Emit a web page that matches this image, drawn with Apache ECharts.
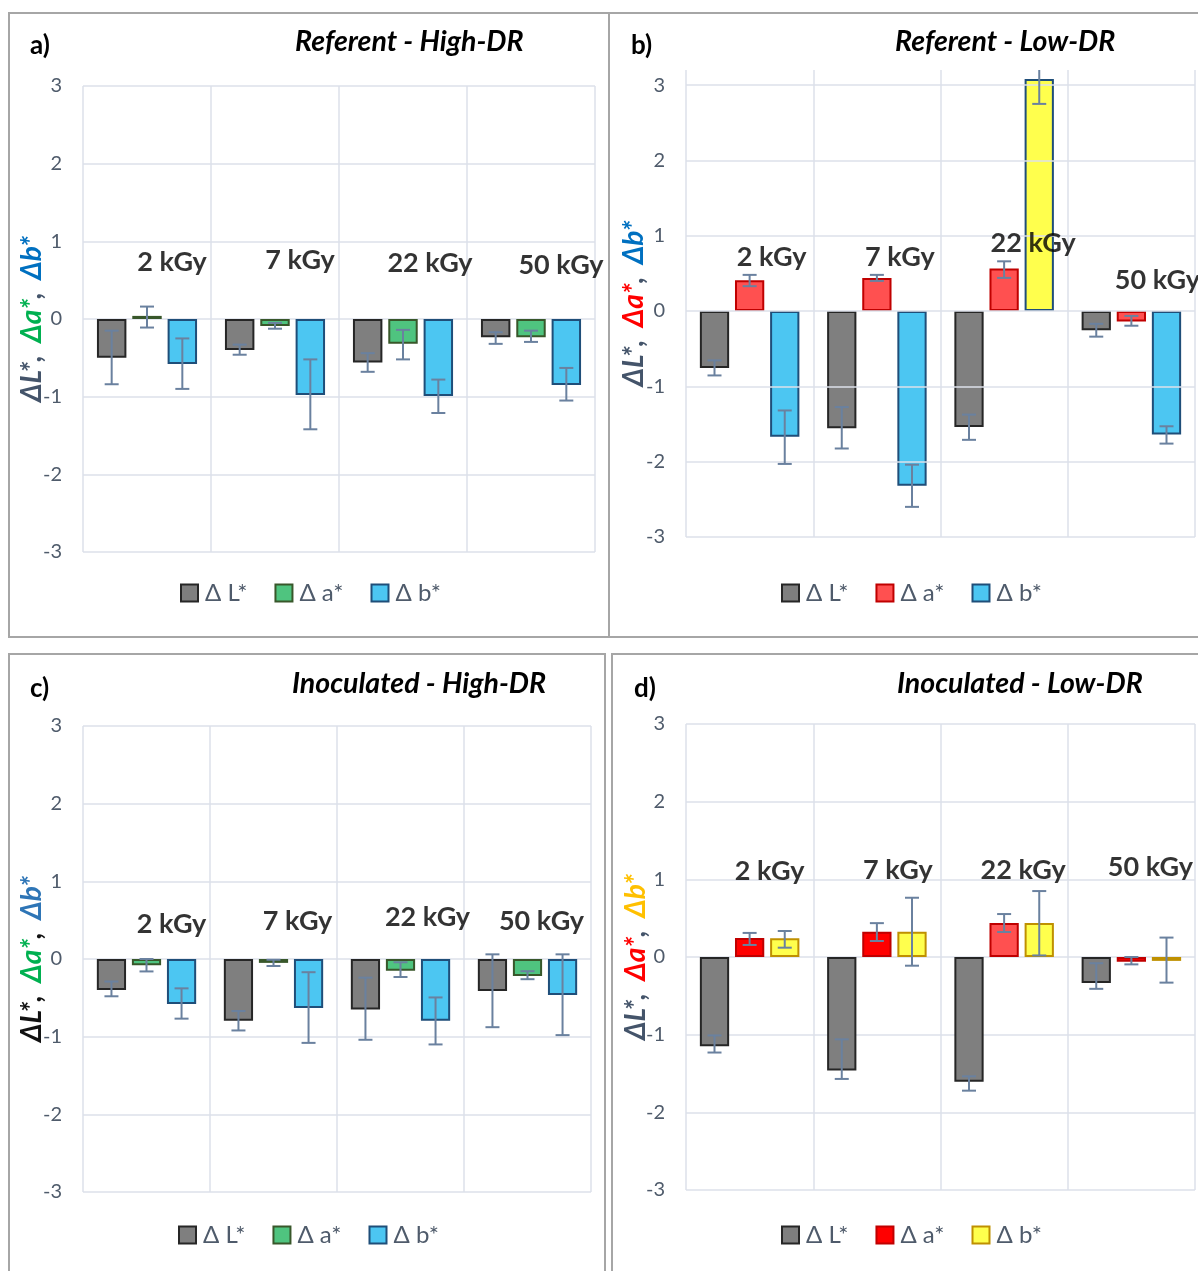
<!DOCTYPE html>
<html><head><meta charset="utf-8">
<script src="https://cdn.jsdelivr.net/npm/echarts@6/dist/echarts.min.js"></script>
<style>
html,body{margin:0;padding:0;width:1198px;height:1271px;overflow:hidden;background:#fff;}
.panel{position:absolute;box-sizing:border-box;border:2px solid #a6a6a6;}
.chart{position:absolute;left:0;top:0;width:100%;height:100%;}
</style></head><body>
<div class="panel" style="left:8px;top:12px;width:602px;height:626px"><div id="pa" class="chart"></div></div>
<div class="panel" style="left:608px;top:12px;width:600px;height:626px"><div id="pb" class="chart"></div></div>
<div class="panel" style="left:8px;top:653px;width:598px;height:640px"><div id="pc" class="chart"></div></div>
<div class="panel" style="left:611px;top:653px;width:600px;height:640px"><div id="pd" class="chart"></div></div>
<script>
// ---------- data ----------
const categories = ['2 kGy', '7 kGy', '22 kGy', '50 kGy'];
const seriesNames = ['Δ L*', 'Δ a*', 'Δ b*'];
const yTicks = [-3, -2, -1, 0, 1, 2, 3];

// error bars given as [minus, plus]
// a) Referent - High-DR
const aL = [-0.50, -0.40, -0.56, -0.235];
const aLerr = [[0.34, 0.35], [0.06, 0.07], [0.12, 0.12], [0.085, 0.065]];
const aA = [0.04, -0.09, -0.32, -0.235];
const aAerr = [[0.15, 0.12], [0.035, 0.04], [0.20, 0.18], [0.06, 0.085]];
const aB = [-0.58, -0.98, -0.99, -0.85];
const aBerr = [[0.32, 0.33], [0.44, 0.46], [0.22, 0.21], [0.20, 0.22]];

// b) Referent - Low-DR
const bL = [-0.755, -1.555, -1.54, -0.255];
const bLerr = [[0.10, 0.10], [0.27, 0.28], [0.17, 0.165], [0.085, 0.085]];
const bA = [0.41, 0.44, 0.565, -0.14];
const bAerr = [[0.08, 0.07], [0.04, 0.04], [0.125, 0.095], [0.055, 0.075]];
const bB = [-1.67, -2.32, 3.08, -1.64];
const bBerr = [[0.36, 0.35], [0.28, 0.28], [0.33, 0.33], [0.12, 0.11]];

// c) Inoculated - High-DR
const cL = [-0.40, -0.795, -0.65, -0.413];
const cLerr = [[0.08, 0.11], [0.125, 0.125], [0.39, 0.41], [0.465, 0.473]];
const cA = [-0.08, -0.05, -0.152, -0.22];
const cAerr = [[0.08, 0.08], [0.04, 0.04], [0.08, 0.11], [0.04, 0.063]];
const cB = [-0.578, -0.63, -0.795, -0.465];
const cBerr = [[0.19, 0.20], [0.45, 0.46], [0.305, 0.30], [0.515, 0.525]];

// d) Inoculated - Low-DR
const dL = [-1.15, -1.46, -1.606, -0.335];
const dLerr = [[0.08, 0.14], [0.11, 0.40], [0.115, 0.07], [0.075, 0.255]];
const dA = [0.245, 0.326, 0.437, -0.06];
const dAerr = [[0.09, 0.065], [0.12, 0.11], [0.115, 0.116], [0.035, 0.06]];
const dB = [0.24, 0.326, 0.437, -0.05];
const dBerr = [[0.12, 0.095], [0.438, 0.437], [0.417, 0.412], [0.28, 0.30]];

// ---------- styles ----------
const FONT = 'Lato, "Open Sans", sans-serif';
const BAR_W = 0.23, BAR_GAP = 0.2;
const ERR_COLOR = '#6a819f';
const GRID_COLOR = '#dce1ea';
const AXIS_TEXT = '#4f5b6b';
const C = {
  gray: { color: '#7f7f7f', borderColor: '#262626' },
  green: { color: '#4fc47f', borderColor: '#38572a' },
  blue: { color: '#4cc6f2', borderColor: '#1f4e79' },
  redB: { color: '#ff5050', borderColor: '#c00000' },
  redD: { color: '#ff0000', borderColor: '#c00000' },
  redDLight: { color: '#ff5050', borderColor: '#c00000' },
  yellowB: { color: '#ffff4d', borderColor: '#1f4e79' },
  yellowD: { color: '#ffff4d', borderColor: '#bf9000' }
};

function errRender(params, api) {
  const cat = api.value(0), val = api.value(1), minus = api.value(2), plus = api.value(3), si = api.value(4);
  const band = api.size([1, 0])[0];
  const bw = band * BAR_W;
  const off = (si - 1) * bw * (1 + BAR_GAP);
  const x = api.coord([cat, val])[0] + off;
  const yTop = api.coord([cat, val + plus])[1];
  const yBot = api.coord([cat, val - minus])[1];
  const cap = 7;
  const style = { stroke: ERR_COLOR, lineWidth: 2 };
  return { type: 'group', children: [
    { type: 'line', shape: { x1: x, y1: yTop, x2: x, y2: yBot }, style },
    { type: 'line', shape: { x1: x - cap, y1: yTop, x2: x + cap, y2: yTop }, style },
    { type: 'line', shape: { x1: x - cap, y1: yBot, x2: x + cap, y2: yBot }, style }
  ]};
}

function buildPanel(el, cfg) {
  const chart = echarts.init(document.getElementById(el), null, { renderer: 'canvas' });
  const series = [];
  cfg.values.forEach((vals, si) => {
    series.push({
      type: 'bar', name: seriesNames[si],
      barWidth: (BAR_W * 100) + '%', barGap: (BAR_GAP * 100) + '%',
      itemStyle: Object.assign({ borderWidth: 2 }, cfg.styles[si]),
      data: vals.map((v, i) => {
        const ov = cfg.overrides && cfg.overrides[si + '_' + i];
        return ov ? { value: v, itemStyle: ov } : v;
      }),
      z: 3
    });
  });
  const errData = [];
  cfg.values.forEach((vals, si) => vals.forEach((v, i) => {
    errData.push([i, v, cfg.errors[si][i][0], cfg.errors[si][i][1], si]);
  }));
  series.push({
    type: 'custom', renderItem: errRender, data: errData, clip: true,
    encode: { x: 0, y: 1 }, z: 5, silent: true
  });
  series.push({
    type: 'scatter', symbolSize: 0, z: 6, silent: true,
    data: categories.map((c, i) => ({
      value: [i, cfg.doseY[i]],
      label: { show: true, formatter: c, offset: [cfg.doseDx[i], 0], position: 'inside',
        color: '#000', fontFamily: FONT, fontWeight: 'bold', fontSize: 27 }
    }))
  });
  if (cfg.manualGrid) {
    series.push({
      type: 'line', data: [], z: 1, silent: true,
      markLine: { silent: true, symbol: 'none', label: { show: false },
        lineStyle: { color: GRID_COLOR, width: 1.5, type: 'solid' },
        data: yTicks.map(t => ({ yAxis: t })) }
    });
  }
  const base = { fontFamily: FONT, fontWeight: 'bold', fontStyle: 'italic', fontSize: 28 };
  const rich = {
    l: Object.assign({ color: cfg.titleColors[0] }, base),
    s: Object.assign({ color: cfg.titleColors[0] }, base),
    a: Object.assign({ color: cfg.titleColors[1] }, base),
    b: Object.assign({ color: cfg.titleColors[2] }, base)
  };
  chart.setOption({
    animation: false,
    textStyle: { fontFamily: FONT },
    grid: Object.assign({ outerBoundsMode: 'none', containLabel: false }, cfg.grid),
    legend: {
      data: seriesNames, left: cfg.legendLeft, top: cfg.legendTop, icon: 'rect', padding: 0,
      itemWidth: 17, itemHeight: 17, itemGap: 27,
      textStyle: { color: AXIS_TEXT, fontSize: 24, fontFamily: FONT, padding: [0, 0, 0, 2] }
    },
    xAxis: {
      type: 'category', data: categories,
      axisLine: { show: false }, axisTick: { show: false }, axisLabel: { show: false },
      splitLine: { show: true, lineStyle: { color: GRID_COLOR, width: 1.5 } }
    },
    yAxis: {
      type: 'value', min: -3, max: cfg.yMax, interval: 1,
      axisLine: { show: false }, axisTick: { show: false },
      axisLabel: { color: AXIS_TEXT, fontSize: 20, fontFamily: FONT, margin: 21,
        formatter: v => Number.isInteger(v) ? String(v) : '' },
      splitLine: { show: !cfg.manualGrid, lineStyle: { color: GRID_COLOR, width: 1.5 } },
      name: '{l|ΔL*}{s|,  }{a|Δa*}{s|,  }{b|Δb*}',
      nameLocation: 'middle', nameRotate: 90, nameGap: cfg.nameGap, nameMoveOverlap: false,
      nameTextStyle: { rich }
    },
    graphic: [
      { type: 'text', left: cfg.letterPos[0], top: cfg.letterPos[1],
        style: { text: cfg.letter, fontFamily: FONT, fontWeight: 'bold', fontSize: 26, fill: '#000' } },
      { type: 'text', left: cfg.titlePos[0], top: cfg.titlePos[1],
        style: { text: cfg.title, fontFamily: FONT, fontWeight: 'bold', fontStyle: 'italic', fontSize: 28.5, fill: '#000' } }
    ],
    series
  });
}

buildPanel('pa', {
  letter: 'a)', title: 'Referent - High-DR', letterPos: [20, 19], titlePos: [285, 13],
  grid: { left: 73, top: 72, width: 512, height: 466 }, yMax: 3,
  values: [aL, aA, aB], errors: [aLerr, aAerr, aBerr],
  styles: [C.gray, C.green, C.blue],
  titleColors: ['#44546a', '#00b050', '#0070c0'], nameGap: 37,
  legendLeft: 170, legendTop: 567,
  doseY: [0.73, 0.75, 0.72, 0.69], doseDx: [25, 25, 27, 30]
});
buildPanel('pb', {
  letter: 'b)', title: 'Referent - Low-DR', letterPos: [21, 19], titlePos: [285, 13],
  grid: { left: 76, top: 56, width: 509, height: 467 }, yMax: 3.2, manualGrid: true,
  values: [bL, bA, bB], errors: [bLerr, bAerr, bBerr],
  styles: [C.gray, C.redB, C.blue],
  overrides: { '2_2': C.yellowB },
  titleColors: ['#44546a', '#ff0000', '#0070c0'], nameGap: 38,
  legendLeft: 171, legendTop: 567,
  doseY: [0.72, 0.72, 0.90, 0.41], doseDx: [22, 23, 29, 26]
});
buildPanel('pc', {
  letter: 'c)', title: 'Inoculated - High-DR', letterPos: [20, 21], titlePos: [282, 14],
  grid: { left: 73, top: 71, width: 508, height: 466 }, yMax: 3,
  values: [cL, cA, cB], errors: [cLerr, cAerr, cBerr],
  styles: [C.gray, C.green, C.blue],
  titleColors: ['#111111', '#00b050', '#2e75b6'], nameGap: 37,
  legendLeft: 168, legendTop: 568,
  doseY: [0.45, 0.49, 0.54, 0.48], doseDx: [25, 24, 27, 14]
});
buildPanel('pd', {
  letter: 'd)', title: 'Inoculated - Low-DR', letterPos: [21, 21], titlePos: [284, 14],
  grid: { left: 73, top: 69, width: 509, height: 466 }, yMax: 3,
  values: [dL, dA, dB], errors: [dLerr, dAerr, dBerr],
  styles: [C.gray, C.redD, C.yellowD],
  overrides: { '1_2': C.redDLight },
  titleColors: ['#44546a', '#ff0000', '#ffc000'], nameGap: 36,
  legendLeft: 168, legendTop: 568,
  doseY: [1.10, 1.11, 1.11, 1.15], doseDx: [20, 21, 19, 19]
});
</script>
</body></html>
